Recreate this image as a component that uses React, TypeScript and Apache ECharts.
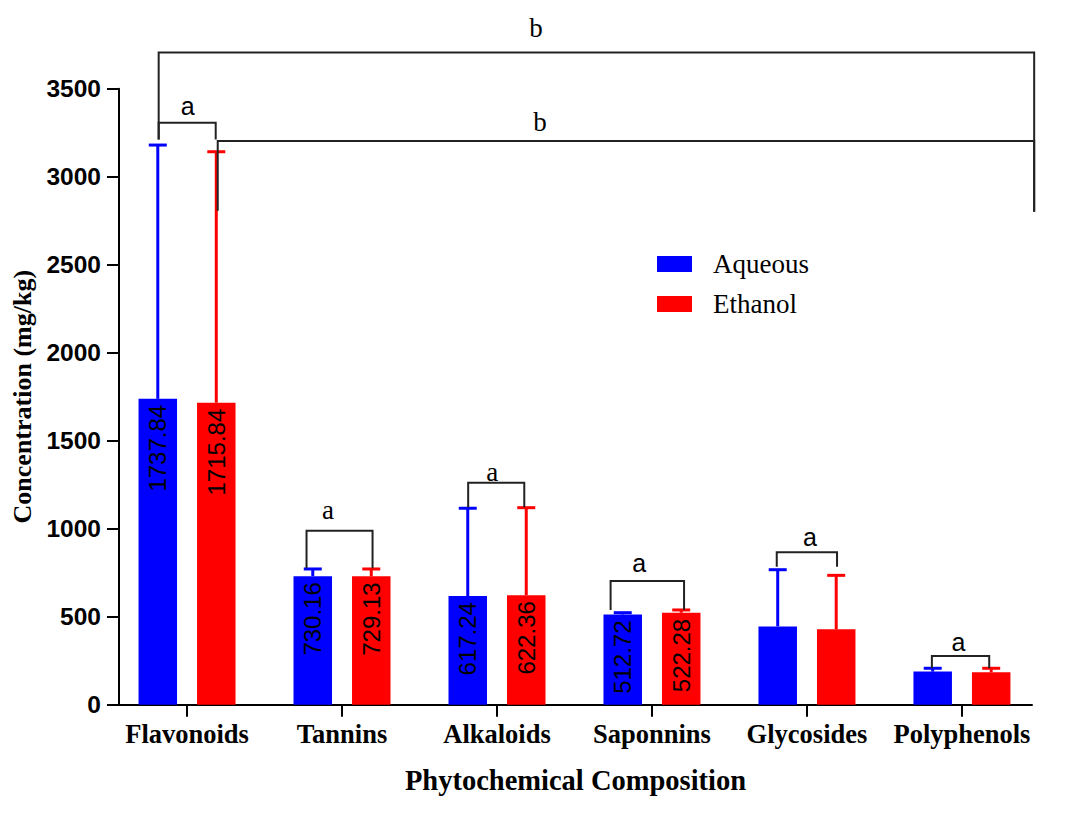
import * as echarts from 'echarts';
import { useEffect, useRef } from 'react';

// 分类与数据
const categories = ['Flavonoids', 'Tannins', 'Alkaloids', 'Saponnins', 'Glycosides', 'Polyphenols'];
const aqueous = [1737.84, 730.16, 617.24, 512.72, 445, 188];
const ethanol = [1715.84, 729.13, 622.36, 522.28, 428, 184];
const aqueousSd = [1442, 41, 499, 10, 322, 19];
const ethanolSd = [1426, 42, 497, 16, 307, 23];
const showValue = [true, true, true, true, false, false];
const yMin = 0;
const yMax = 3500;
const yStep = 500;

// 显著性标记: x 为分类坐标, y 为 mg/kg
const brackets = [
  { x1: -0.183, x2: 5.466, top: 3706, left: 3212, right: 2801, text: 'b', tx: 2.251, ty: 3845, serif: true },
  { x1: 0.198, x2: 5.466, top: 3203, left: 2807, right: 2801, text: 'b', tx: 2.277, ty: 3311, serif: true },
  { x1: -0.183, x2: 0.185, top: 3307, left: 3212, right: 3212, text: 'a', tx: 0.005, ty: 3402, serif: false },
  { x1: 0.771, x2: 1.197, top: 989, left: 775, right: 775, text: 'a', tx: 0.91, ty: 1106, serif: true },
  { x1: 1.814, x2: 2.176, top: 1261, left: 1122, right: 1122, text: 'a', tx: 1.969, ty: 1324, serif: true },
  { x1: 2.733, x2: 3.207, top: 703, left: 538, right: 540, text: 'a', tx: 2.918, ty: 803, serif: false },
  { x1: 3.805, x2: 4.194, top: 866, left: 784, right: 784, text: 'a', tx: 4.02, ty: 955, serif: false },
  { x1: 4.806, x2: 5.176, top: 277, left: 207, right: 207, text: 'a', tx: 4.977, ty: 358, serif: false },
];

const BLUE = '#0000ff';
const RED = '#ff0000';
const SERIF = '"Liberation Serif", "Times New Roman", serif';
const SANS = '"Liberation Sans", Arial, sans-serif';
const BAR_W = 38.5;
const BAR_GAP = 20;
const OFFSET = (BAR_W + BAR_GAP) / 2;
const CAP = 18;

const errorSeries = (name: string, means: number[], sds: number[], color: string, side: number) => ({
  type: 'custom',
  name,
  silent: true,
  z: 3,
  data: means.map((m, i) => [i, m, m + sds[i]]),
  encode: { x: 0, y: [1, 2] },
  renderItem: (_params: any, api: any) => {
    const base = api.coord([api.value(0), api.value(1)]);
    const top = api.coord([api.value(0), api.value(2)]);
    const x = base[0] + side * OFFSET;
    const style = { stroke: color, lineWidth: 3 };
    return {
      type: 'group',
      children: [
        { type: 'line', shape: { x1: x, y1: base[1], x2: x, y2: top[1] }, style },
        { type: 'line', shape: { x1: x - CAP / 2, y1: top[1], x2: x + CAP / 2, y2: top[1] }, style },
      ],
    };
  },
});

const barSeries = (name: string, values: number[], color: string) => ({
  type: 'bar',
  name,
  barWidth: BAR_W,
  barGap: `${(BAR_GAP / BAR_W) * 100}%`,
  data: values.map((v, i) => ({
    value: [i, v],
    label: { show: showValue[i] },
  })),
  itemStyle: { color },
  label: {
    position: 'insideTop',
    rotate: 90,
    align: 'right',
    verticalAlign: 'middle',
    distance: 6,
    color: '#000',
    fontFamily: SANS,
    fontSize: 24,
    formatter: (p: any) => p.value[1].toFixed(2),
  },
});

const getOptions = () => ({
  animation: false,
  grid: { left: 119, right: 54, top: 88.7, bottom: 117.3 },
  legend: {
    data: [
      { name: 'Aqueous', icon: 'rect' },
      { name: 'Ethanol', icon: 'rect' },
    ],
    orient: 'vertical',
    left: 652,
    top: 244,
    itemWidth: 35,
    itemHeight: 16,
    itemGap: 10,
    textStyle: {
      fontFamily: SERIF,
      fontSize: 27,
      color: '#000',
      lineHeight: 26,
      padding: [4, 0, 0, 16],
    },
  },
  xAxis: {
    type: 'value',
    min: -0.439,
    max: 5.452,
    name: 'Phytochemical Composition',
    nameLocation: 'middle',
    nameGap: 61,
    nameTextStyle: { fontFamily: SERIF, fontWeight: 'bold', fontSize: 28.5, color: '#000' },
    axisLine: { show: true, onZero: false, lineStyle: { color: '#000', width: 2 } },
    axisTick: {
      show: true,
      customValues: categories.map((_, i) => i),
      length: 12,
      lineStyle: { color: '#000', width: 2 },
    },
    axisLabel: {
      customValues: categories.map((_, i) => i),
      formatter: (v: number) => categories[Math.round(v)] ?? '',
      fontFamily: SERIF,
      fontWeight: 'bold',
      fontSize: 26.5,
      color: '#000',
      margin: 16,
    },
    splitLine: { show: false },
  },
  yAxis: {
    type: 'value',
    min: yMin,
    max: yMax,
    interval: yStep,
    name: 'Concentration (mg/kg)',
    nameLocation: 'middle',
    nameGap: 78,
    nameTextStyle: { fontFamily: SERIF, fontWeight: 'bold', fontSize: 26, color: '#000' },
    axisLine: { show: true, onZero: false, lineStyle: { color: '#000', width: 2 } },
    axisTick: { show: true, length: 12, lineStyle: { color: '#000', width: 2 } },
    axisLabel: {
      formatter: (v: number) => String(v),
      fontFamily: SANS,
      fontWeight: 'bold',
      fontSize: 24.5,
      color: '#000',
      margin: 18,
    },
    splitLine: { show: false },
  },
  series: [
    barSeries('Aqueous', aqueous, BLUE),
    barSeries('Ethanol', ethanol, RED),
    errorSeries('Aqueous SD', aqueous, aqueousSd, BLUE, -1),
    errorSeries('Ethanol SD', ethanol, ethanolSd, RED, 1),
    {
      type: 'custom',
      name: 'Significance',
      silent: true,
      z: 4,
      data: brackets.map(b => [b.x1, b.top]),
      encode: { x: 0, y: 1 },
      renderItem: (params: any, api: any) => {
        const b = brackets[params.dataIndex];
        const tl = api.coord([b.x1, b.top]);
        const tr = api.coord([b.x2, b.top]);
        const bl = api.coord([b.x1, b.left]);
        const br = api.coord([b.x2, b.right]);
        const t = api.coord([b.tx, b.ty]);
        return {
          type: 'group',
          children: [
            {
              type: 'polyline',
              shape: { points: [bl, tl, tr, br] },
              style: { stroke: '#222', lineWidth: 2, fill: 'none' },
            },
            {
              type: 'text',
              x: t[0],
              y: t[1],
              style: {
                text: b.text,
                fill: '#000',
                fontFamily: b.serif ? SERIF : SANS,
                fontSize: b.serif ? 27 : 25,
                align: 'center',
                verticalAlign: 'middle',
              },
            },
          ],
        };
      },
    },
  ],
});

export default function App() {
  const chartRef = useRef<HTMLDivElement>(null);

  useEffect(() => {
    if (!chartRef.current) return;
    const chart = echarts.init(chartRef.current, undefined, { renderer: 'svg' });
    chart.setOption(getOptions() as any);
    return () => {
      chart.dispose();
    };
  }, []);

  return (
    <div
      ref={chartRef}
      style={{ position: 'fixed', left: 0, top: 0, width: 1086, height: 822, background: '#fff' }}
    />
  );
}
